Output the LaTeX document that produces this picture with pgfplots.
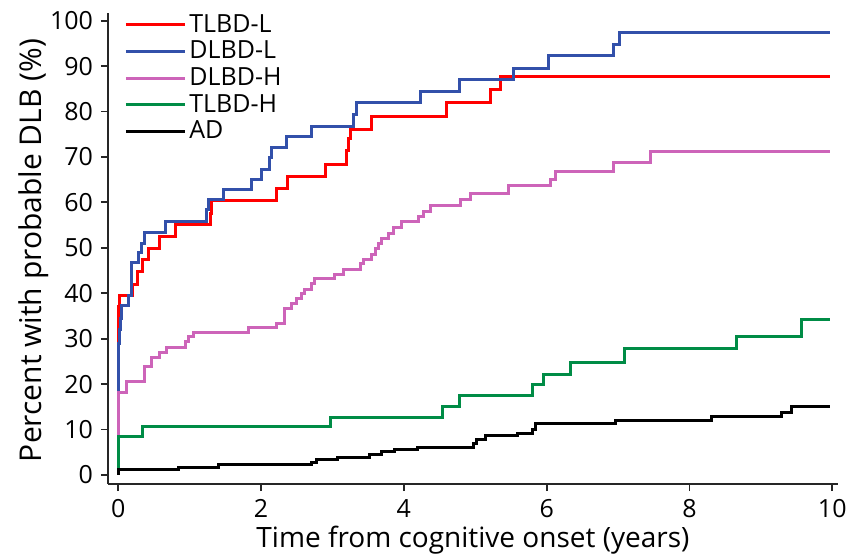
\documentclass[border=0pt]{standalone}
\usepackage{pgfplots}
\pgfplotsset{compat=1.18}
\usepackage{fontspec}
\setmainfont{Open Sans}
\definecolor{cred}{RGB}{255,0,0}
\definecolor{cblue}{RGB}{50,80,170}
\definecolor{cpink}{RGB}{205,100,185}
\definecolor{cgreen}{RGB}{0,140,70}
\begin{document}
\begin{tikzpicture}
\begin{axis}[
  scale only axis,
  width=365pt, height=235.5pt,
  xmin=-0.144, xmax=10.08,
  ymin=-2, ymax=101.7,
  axis x line*=bottom, axis y line*=left,
  axis line style={-, line width=0.9pt, black!85},
  tick align=outside,
  major tick length=3.5pt,
  tick style={line width=0.9pt, black!85},
  xtick={0,2,4,6,8,10},
  ytick={0,10,20,30,40,50,60,70,80,90,100},
  /pgf/number format/assume math mode=true,
  ticklabel style={font=\fontsize{12.5}{14}\selectfont},
  yticklabel style={xshift=-0.5pt},
  xticklabel style={yshift=-0.5pt},
  every axis x label/.style={at={(rel axis cs:0.5,0)}, yshift=-28pt, anchor=center, font=\fontsize{14}{16}\selectfont},
  every axis y label/.style={at={(rel axis cs:0,0.5)}, xshift=-37pt, yshift=-1pt, anchor=center, rotate=90, font=\fontsize{15}{17}\selectfont},
  xlabel={Time from cognitive onset (years)},
  ylabel={Percent with probable DLB (\%)},
  legend style={draw=none, fill=none, at={(rel axis cs:0,1)}, anchor=north west,
    xshift=5pt, yshift=3pt, font=\fontsize{12.5}{14}\selectfont,
    row sep=-0.1pt, nodes={inner sep=1.5pt}},
  legend cell align=left,
  legend image code/.code={\draw[#1] (0pt,0pt) -- (29.5pt,0pt);},
  every axis plot/.append style={line width=1.5pt, const plot},
]
\coordinate (bl) at (rel axis cs:0,0);
\addplot[cred] coordinates {(0,0) (0,37.1) (0.02,39.4) (0.2,42.0) (0.276,44.8) (0.34,47.4) (0.42,49.9) (0.58,52.5) (0.80,55.1) (1.29,57.6) (1.31,60.4) (2.21,63.1) (2.37,65.7) (2.90,68.3) (3.20,71.5) (3.22,74) (3.25,76.0) (3.55,78.9) (4.60,81.9) (5.22,84.9) (5.35,87.7) (9.97,87.7)};
\addlegendentry{TLBD-L}
\addplot[cblue] coordinates {(0,0) (0,26) (0.01,29) (0.02,32) (0.03,34.5) (0.05,37.4) (0.14,39.4) (0.18,43.5) (0.19,46.7) (0.28,49.0) (0.33,51.0) (0.37,53.4) (0.66,55.8) (1.24,58.4) (1.26,60.6) (1.47,62.8) (1.87,65.1) (2.01,67.3) (2.12,69.8) (2.15,72.0) (2.36,74.4) (2.70,76.7) (3.29,79.3) (3.34,81.9) (4.23,84.4) (4.78,87.0) (5.54,89.4) (6.02,92.3) (6.94,94.7) (7.02,97.3) (9.97,97.3)};
\addlegendentry{DLBD-L}
\addplot[cpink] coordinates {(0,0) (0,18.1) (0.12,20.5) (0.37,23.8) (0.47,25.8) (0.58,26.9) (0.68,28.0) (0.94,29.3) (0.99,30.5) (1.05,31.4) (1.82,32.5) (2.21,33.4) (2.33,36.7) (2.43,37.8) (2.49,38.9) (2.56,40.0) (2.61,40.9) (2.71,42.1) (2.75,43.2) (3.03,44.2) (3.16,45.3) (3.39,46.5) (3.44,47.4) (3.55,48.5) (3.60,49.8) (3.64,50.9) (3.69,52.0) (3.78,53.2) (3.85,54.5) (3.96,55.7) (4.21,56.9) (4.28,58.0) (4.37,59.3) (4.79,60.6) (4.93,62.0) (5.46,63.7) (6.05,65.0) (6.12,66.7) (6.94,68.8) (7.46,71.2) (9.97,71.2)};
\addlegendentry{DLBD-H}
\addplot[cgreen] coordinates {(0,0) (0,8.5) (0.34,10.6) (2.97,12.7) (4.54,15.0) (4.78,17.5) (5.80,20.0) (5.95,22.2) (6.34,24.8) (7.09,27.8) (8.66,30.5) (9.57,34.3) (9.97,34.3)};
\addlegendentry{TLBD-H}
\addplot[black] coordinates {(0,0) (0,1.25) (0.85,1.7) (1.41,2.2) (2.70,2.7) (2.78,3.3) (3.07,3.8) (3.52,4.4) (3.69,5.1) (3.87,5.7) (4.19,6.1) (4.98,7.0) (5.02,7.9) (5.15,8.6) (5.59,9.2) (5.80,10.1) (5.85,11.3) (6.96,12.0) (8.31,12.8) (9.29,13.8) (9.43,15.0) (9.97,15.0)};
\addlegendentry{AD}
\end{axis}
\pgfresetboundingbox
\path (bl) ++(-54pt,-36pt) rectangle ++(423pt,278pt);
\end{tikzpicture}
\end{document}
